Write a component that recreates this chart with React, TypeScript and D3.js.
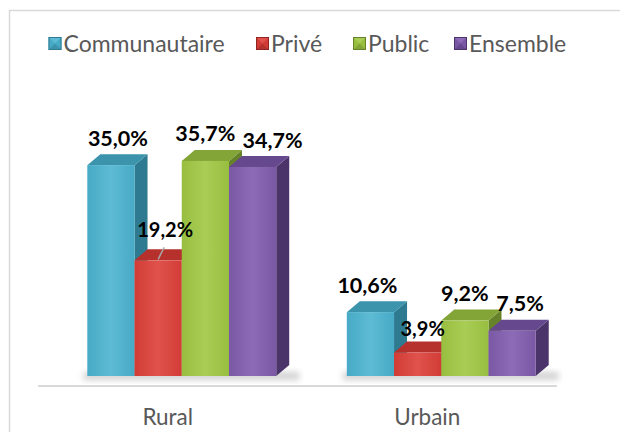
import React from "react";
import * as d3 from "d3";

const categories = ["Rural", "Urbain"];
const series = ["Communautaire", "Privé", "Public", "Ensemble"];
const values: number[][] = [
  [35.0, 19.2, 35.7, 34.7],
  [10.6, 3.9, 9.2, 7.5],
];
const labels: string[][] = [
  ["35,0%", "19,2%", "35,7%", "34,7%"],
  ["10,6%", "3,9%", "9,2%", "7,5%"],
];

const frontColors = ["#47AAC6", "#D23C36", "#98BE40", "#7B58A4"];
const topColors = ["#3B93AC", "#B6302C", "#83A436", "#66488E"];
const sideColors = ["#2E7A90", "#8F2522", "#66832A", "#4A3469"];
const lightColors = ["#5EBBD4", "#E0524C", "#A9CD55", "#8C6BB7"];

// label layout nudges [dx, dy from bar top, small?]
const labelNudge: [number, number, boolean][][] = [
  [[7, -19, false], [7, -23, true], [0, -20, false], [20, -19, false]],
  [[-3, -19, false], [5, -17, true], [0, -20, false], [8, -20, false]],
];

const W = 620;
const H = 432;
const DX = 13;
const DY = -11;

export default function App() {
  const x0 = d3.scaleBand<string>().domain(categories).range([38, 557]);
  const groupW = x0.bandwidth() * 0.728;
  const x1 = d3.scaleBand<string>().domain(series).range([0, groupW]);
  const y = d3.scaleLinear().domain([0, 40]).range([376, 135]);
  const bw = x1.bandwidth();

  const legendX = [48.5, 256, 353, 454];

  return (
    <svg
      width={W}
      height={H}
      style={{ position: "absolute", left: 0, top: 0, background: "#fff" }}
      fontFamily="Lato, 'Open Sans', sans-serif"
    >
      <defs>
        {series.map((s, i) => (
          <linearGradient key={s} id={`g${i}`} x1="0" x2="1" y1="0" y2="0">
            <stop offset="0" stopColor={frontColors[i]} />
            <stop offset="0.5" stopColor={lightColors[i]} />
            <stop offset="1" stopColor={frontColors[i]} />
          </linearGradient>
        ))}
        <filter id="blur" x="-20%" y="-50%" width="140%" height="200%">
          <feGaussianBlur stdDeviation="3" />
        </filter>
      </defs>
      <rect x={9.5} y={10.5} width={W + 20} height={H + 20} fill="#fff" stroke="#d9d9d9" strokeWidth={1.5} />

      {/* legend */}
      {series.map((s, i) => {
        const lx = legendX[i];
        const ly = 37;
        const sz = 13;
        return (
          <g key={s}>
            <rect x={lx} y={ly} width={sz} height={sz} fill={frontColors[i]} />
            <polygon
              points={`${lx},${ly} ${lx + sz},${ly} ${lx + sz / 2},${ly + sz / 2}`}
              fill={lightColors[i]}
            />
            <polygon
              points={`${lx},${ly + sz} ${lx + sz},${ly + sz} ${lx + sz / 2},${ly + sz / 2}`}
              fill={topColors[i]}
            />
            <rect x={lx + 0.5} y={ly + 0.5} width={sz - 1} height={sz - 1} fill="none" stroke={sideColors[i]} strokeWidth={1} />
            <text x={lx + sz + 2} y={51.5} fontSize={23} fill="#595959">
              {s}
            </text>
          </g>
        );
      })}

      {/* floor shadow */}
      {categories.map((c) => {
        const gx = (x0(c) as number) + x0.bandwidth() * 0.19;
        return (
          <rect key={c} x={gx - 4} y={372} width={groupW + DX + 14} height={8} fill="#000" opacity={0.18} filter="url(#blur)" />
        );
      })}

      {/* axis line */}
      <line x1={38} x2={557} y1={386} y2={386} stroke="#d9d9d9" strokeWidth={2} />

      {/* bars */}
      {categories.map((c, ci) => {
        const gx = (x0(c) as number) + x0.bandwidth() * 0.19;
        return (
          <g key={c}>
            {series.map((s, si) => {
              const v = values[ci][si];
              const xl = gx + (x1(s) as number);
              const xr = xl + bw;
              const yt = y(v);
              const yb = y(0);
              return (
                <g key={s}>
                  <polygon
                    points={`${xr},${yt} ${xr + DX},${yt + DY} ${xr + DX},${yb + DY} ${xr},${yb}`}
                    fill={sideColors[si]}
                  />
                  <polygon
                    points={`${xl},${yt} ${xr},${yt} ${xr + DX},${yt + DY} ${xl + DX},${yt + DY}`}
                    fill={topColors[si]}
                  />
                  <rect x={xl} y={yt} width={bw} height={yb - yt} fill={`url(#g${si})`} />
                </g>
              );
            })}
          </g>
        );
      })}

      {/* labels */}
      {categories.map((c, ci) => {
        const gx = (x0(c) as number) + x0.bandwidth() * 0.19;
        return (
          <g key={c}>
            {series.map((s, si) => {
              const v = values[ci][si];
              const cx = gx + (x1(s) as number) + bw / 2;
              const yt = y(v);
              const [ndx, ndy, small] = labelNudge[ci][si];
              return (
                <g key={s}>
                  {ci === 0 && si === 1 && (
                    <line x1={cx} y1={yt - 1} x2={cx + 6} y2={yt - 13} stroke="#a6a6a6" strokeWidth={1.5} />
                  )}
                  <text
                    x={cx + ndx}
                    y={yt + ndy}
                    textAnchor="middle"
                    fontWeight="bold"
                    fontSize={small ? 20 : 21.5}
                    fill="#000"
                  >
                    {labels[ci][si]}
                  </text>
                </g>
              );
            })}
          </g>
        );
      })}

      {/* category labels */}
      {categories.map((c) => (
        <text
          key={c}
          x={(x0(c) as number) + x0.bandwidth() / 2}
          y={425}
          textAnchor="middle"
          fontSize={22.5}
          fill="#595959"
        >
          {c}
        </text>
      ))}
    </svg>
  );
}
